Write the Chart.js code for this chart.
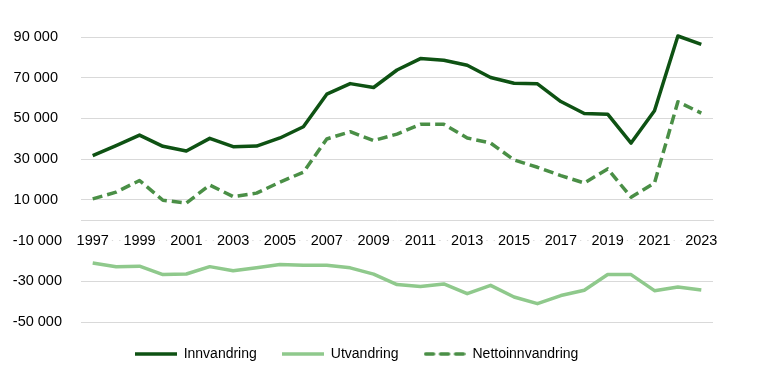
<!DOCTYPE html>
<html>
<head>
<meta charset="utf-8">
<script src="https://cdn.jsdelivr.net/npm/chart.js@4/dist/chart.umd.min.js"></script>
<style>
  html, body { margin: 0; padding: 0; background: #fff; }
  #wrap { width: 761px; height: 385px; position: relative; }
</style>
</head>
<body>
<div id="wrap"><canvas id="c"></canvas></div>
<script>
  // Befolkningsstrømmer, 1997-2023
  const years = ['1997', '1998', '1999', '2000', '2001', '2002', '2003', '2004', '2005', '2006',
    '2007', '2008', '2009', '2010', '2011', '2012', '2013', '2014', '2015', '2016',
    '2017', '2018', '2019', '2020', '2021', '2022', '2023'];

  const innvandring = [31700, 36600, 41800, 36300, 34000, 40200, 36100, 36400, 40400, 45900,
    61900, 67100, 65200, 73800, 79400, 78600, 76100, 70100, 67300, 67000,
    58300, 52400, 52100, 37900, 53800, 90500, 86400];

  const utvandring = [-21000, -22900, -22600, -26700, -26400, -22800, -24800, -23300, -21800, -22100,
    -22100, -23400, -26500, -31600, -32600, -31300, -36100, -32000, -37700, -41000,
    -37000, -34400, -26700, -26700, -34600, -32800, -34300];

  const nettoinnvandring = [10500, 13800, 19500, 9800, 8400, 17300, 11600, 13300, 18700, 23600,
    39900, 43500, 39100, 42300, 47100, 47100, 40400, 37900, 29600, 26000,
    21900, 18300, 25200, 11300, 18300, 58200, 52600];

  const yMin = -50000, yMax = 90000, yStep = 20000;

  const GRID = '#d9d9d9';
  const TEXT = '#000000';

  function fmt(v) {
    const s = Math.abs(v).toString().replace(/\B(?=(\d{3})+(?!\d))/g, ' ');
    return v < 0 ? '-' + s : s + ' ';
  }

  // small canvas used as legend sample (line, optionally dashed)
  function lineSample(color, dash) {
    const c = document.createElement('canvas');
    c.width = 42; c.height = 6;
    const g = c.getContext('2d');
    g.strokeStyle = color;
    g.lineWidth = 3.5;
    g.lineCap = dash ? 'round' : 'butt';
    g.setLineDash(dash || []);
    g.beginPath();
    g.moveTo(dash ? 2 : 0, 3);
    g.lineTo(42, 3);
    g.stroke();
    return c;
  }

  function series(label, data, color, dash) {
    return {
      label, data,
      borderColor: color,
      backgroundColor: color,
      borderWidth: 3.5,
      borderDash: dash || [],
      pointRadius: 0,
      tension: 0,
      borderJoinStyle: 'round',
      clip: false,
      pointStyle: lineSample(color, dash ? [8, 7] : null),
    };
  }

  Chart.defaults.font.family = "'Liberation Sans', Arial, sans-serif";
  Chart.defaults.color = TEXT;

  new Chart(document.getElementById('c'), {
    type: 'line',
    data: {
      labels: years,
      datasets: [
        series('Innvandring', innvandring, '#0e5213'),
        series('Utvandring', utvandring, '#8fc98c'),
        series('Nettoinnvandring', nettoinnvandring, '#4a8f46', [10, 5]),
      ],
    },
    options: {
      responsive: true,
      maintainAspectRatio: false,
      animation: false,
      layout: { padding: { top: 37, right: 48, bottom: 14, left: 0 } },
      plugins: {
        tooltip: { enabled: false },
        legend: {
          position: 'bottom',
          align: 'center',
          labels: {
            usePointStyle: true,
            pointStyleWidth: 42,
            padding: 25,
            color: TEXT,
            font: { size: 14 },
          },
        },
      },
      scales: {
        x: {
          type: 'category',
          position: { y: 0 },
          offset: true,
          grid: { display: false, drawTicks: false },
          border: { display: true, color: GRID, width: 1 },
          ticks: {
            autoSkip: false,
            maxRotation: 0,
            padding: 12,
            color: TEXT,
            font: { size: 14.5 },
            showLabelBackdrop: true,
            backdropColor: '#ffffff',
            backdropPadding: { x: 3, y: 0 },
            callback: function (val, i) { return i % 2 === 0 ? this.getLabelForValue(val) : ''; },
          },
        },
        y: {
          min: yMin,
          max: yMax,
          ticks: {
            stepSize: yStep,
            padding: 19,
            color: TEXT,
            font: { size: 14.5 },
            callback: (v) => fmt(v),
          },
          grid: { color: GRID, lineWidth: 1, drawTicks: false },
          border: { display: false },
          afterFit: (scale) => { scale.width = 81; },
        },
      },
    },
  });
</script>
</body>
</html>
